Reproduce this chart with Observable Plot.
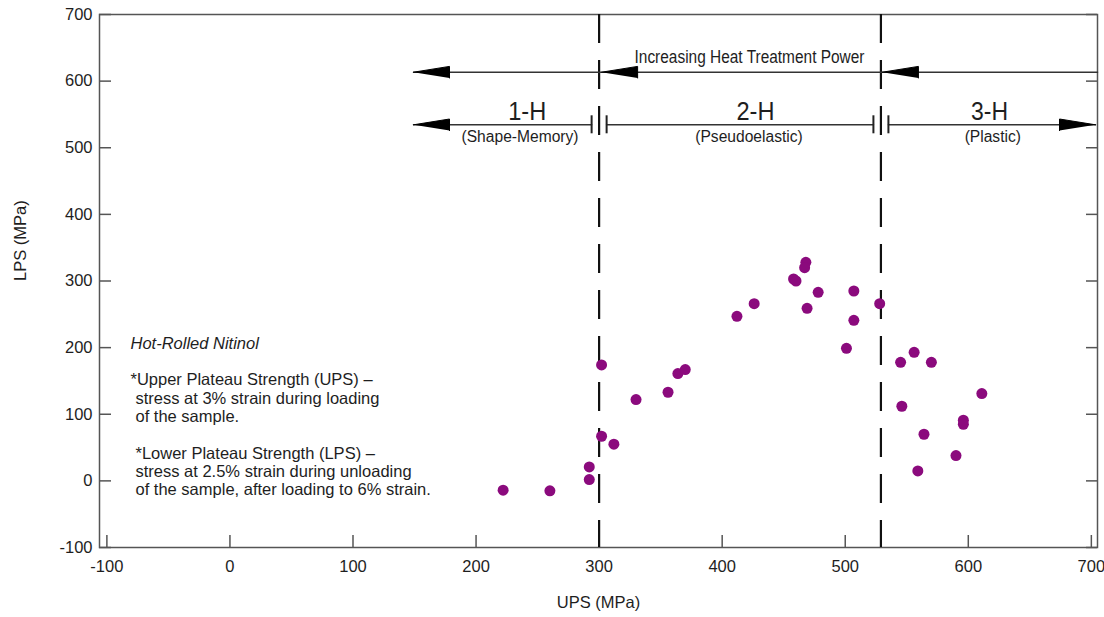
<!DOCTYPE html>
<html><head><meta charset="utf-8">
<script src="https://cdn.jsdelivr.net/npm/d3@7"></script>
<script src="https://cdn.jsdelivr.net/npm/@observablehq/plot@0.6"></script>
<style>
html,body{margin:0;padding:0;background:#fff;}
#chart{width:1104px;height:617px;}
</style></head><body><div id="chart"></div>
<script>
// ---- data ----
const ups = [222, 260, 292, 292, 302, 302, 312, 330, 356, 364, 370, 412, 426, 468, 467, 458, 460, 478, 507, 528, 469, 507, 501, 545, 556, 570, 611, 546, 596, 596, 564, 590, 559];
const lps = [-14, -15, 21, 2, 174, 67, 55, 122, 133, 161, 167, 247, 266, 328, 320, 303, 300, 283, 285, 266, 259, 241, 199, 178, 193, 178, 131, 112, 91, 85, 70, 38, 15];
const xTicks = [-100, 0, 100, 200, 300, 400, 500, 600, 700];
const yTicks = [-100, 0, 100, 200, 300, 400, 500, 600, 700];
const boundaries = [300, 529];
const regionCodes = ["1-H", "2-H", "3-H"];
const regionNames = ["(Shape-Memory)", "(Pseudoelastic)", "(Plastic)"];
const powerLabel = "Increasing Heat Treatment Power";
const notes = ["Hot-Rolled Nitinol", "*Upper Plateau Strength (UPS) \u2013", "stress at 3% strain during loading", "of the sample.", "*Lower Plateau Strength (LPS) \u2013", "stress at 2.5% strain during unloading", "of the sample, after loading to 6% strain."];
const xTitle = "UPS (MPa)";
const yTitle = "LPS (MPa)";

// ---- layout ----
const W = 1104, H = 617, mL = 99, mR = 7, mT = 14, mB = 70;
const xDom = [-106, 705], yDom = [-100, 700];
const kx = (W - mL - mR) / (xDom[1] - xDom[0]);
const ky = (H - mT - mB) / (yDom[1] - yDom[0]);
const px = p => p / kx, py = p => p / ky;
const X = p => xDom[0] + (p - mL) / kx;          // pixel -> data (annotation placement)
const Y = p => yDom[0] + (H - mB - p) / ky;

const row1 = Y(71.7), row2 = Y(124.3);
const leftTip = X(413), rightTip = X(1095);
const headLen = px(36), headHalf = py(5.8);
const gap = px(7.5);

const points = ups.map((u, i) => ({ups: u, lps: lps[i]}));

function head(tip, y, dir, id) {
  return [
    {id, x: tip, y},
    {id, x: tip - dir * headLen, y: y + headHalf},
    {id, x: tip - dir * headLen, y: y - headHalf}
  ];
}
const heads = [
  ...head(leftTip, row1, -1, "a"),
  ...head(boundaries[0] + px(2.5), row1, -1, "b"),
  ...head(boundaries[1] + px(1.5), row1, -1, "c"),
  ...head(leftTip, row2, -1, "d"),
  ...head(rightTip, row2, 1, "e")
];
const segs = [
  {id: 1, x: leftTip, y: row1}, {id: 1, x: xDom[1], y: row1},
  {id: 2, x: leftTip, y: row2}, {id: 2, x: boundaries[0] - gap, y: row2},
  {id: 3, x: boundaries[0] + gap, y: row2}, {id: 3, x: boundaries[1] - gap, y: row2},
  {id: 4, x: boundaries[1] + gap, y: row2}, {id: 4, x: rightTip, y: row2}
];
const bars = boundaries.flatMap(b => [b - gap, b + gap]);

const codeX = [X(526.7), X(755), X(989)];
const nameX = [X(519.5), X(748.5), X(992.3)];
const noteSlots = [0, 2, 3, 4, 6, 7, 8];
const noteDx = [31, 31, 36, 36, 36, 36, 36];
// condensed-look widths (px) for the heat-treatment labels
const condensed = new Map([[powerLabel, 230], ["1-H", 38], ["2-H", 38], ["3-H", 37]]);

const ink = "#1e1e1e", axisInk = "#555";
const font = "'Liberation Sans', Arial, sans-serif";

const chart = Plot.plot({
  width: W, height: H,
  marginLeft: mL, marginRight: mR, marginTop: mT, marginBottom: mB,
  style: {fontFamily: font, fontSize: "16px", color: ink, background: "#fff"},
  x: {domain: xDom, label: null},
  y: {domain: yDom, label: null},
  marks: [
    Plot.axisX(xTicks, {tickSize: 0, tickPadding: 13, fontSize: 16.5, tickFormat: d => String(d), label: null}),
    Plot.axisY(yTicks, {tickSize: 0, tickPadding: 7, fontSize: 16.5, tickFormat: d => String(d), label: null}),
    Plot.ruleX(xTicks, {x: d => d, y1: yDom[0], y2: yDom[0] + py(12), stroke: axisInk, strokeWidth: 1.5}),
    Plot.ruleY(yTicks, {y: d => d, x1: xDom[0], x2: xDom[0] + px(12), stroke: axisInk, strokeWidth: 1.5}),
    Plot.ruleY(yTicks, {y: d => d, x1: xDom[1] - px(11), x2: xDom[1], stroke: axisInk, strokeWidth: 1.5}),
    Plot.frame({stroke: axisInk, strokeWidth: 1.5}),
    Plot.ruleX(boundaries, {x: d => d, stroke: "#111", strokeWidth: 2.2, strokeDasharray: "29,17"}),
    Plot.line(segs, {x: "x", y: "y", z: "id", stroke: "#333", strokeWidth: 1.5}),
    Plot.line(heads, {x: "x", y: "y", z: "id", fill: "#000", stroke: "#000", strokeWidth: 1}),
    Plot.ruleX(bars, {x: d => d, y1: row2 - py(9), y2: row2 + py(9), stroke: "#222", strokeWidth: 2}),
    Plot.text([powerLabel], {x: X(749), y: Y(57), text: d => d, fontSize: 17.5, fill: ink}),
    Plot.text(regionCodes, {x: (d, i) => codeX[i], y: Y(111.2), text: d => d, fontSize: 26, fill: ink}),
    Plot.text(regionNames, {x: (d, i) => nameX[i], y: Y(136), text: d => d, fontSize: 15.6, fill: ink}),
    Plot.dot(points, {x: "ups", y: "lps", r: 5.5, fill: "#8b0a7d", stroke: null}),
    ...notes.map((t, i) => Plot.text([t], {
      frameAnchor: "top-left", dx: noteDx[i], dy: 334.3 + noteSlots[i] * 18.33 , text: d => d,
      textAnchor: "start", lineAnchor: "bottom", fontSize: 16.5, fontStyle: i === 0 ? "italic" : "normal", fill: ink
    })),
    Plot.text([xTitle], {frameAnchor: "bottom", dy: 60, text: d => d, fontSize: 16.5, fill: ink}),
    Plot.text([yTitle], {frameAnchor: "left", dx: -79, rotate: -90, text: d => d, fontSize: 16.5, fill: ink})
  ]
});
// give the heat-treatment labels their condensed (narrow) appearance
d3.select(chart).selectAll("text").each(function() {
  const w = condensed.get(this.textContent);
  if (w) { this.setAttribute("textLength", w); this.setAttribute("lengthAdjust", "spacingAndGlyphs"); }
});
document.getElementById("chart").appendChild(chart);
</script>
</body></html>
